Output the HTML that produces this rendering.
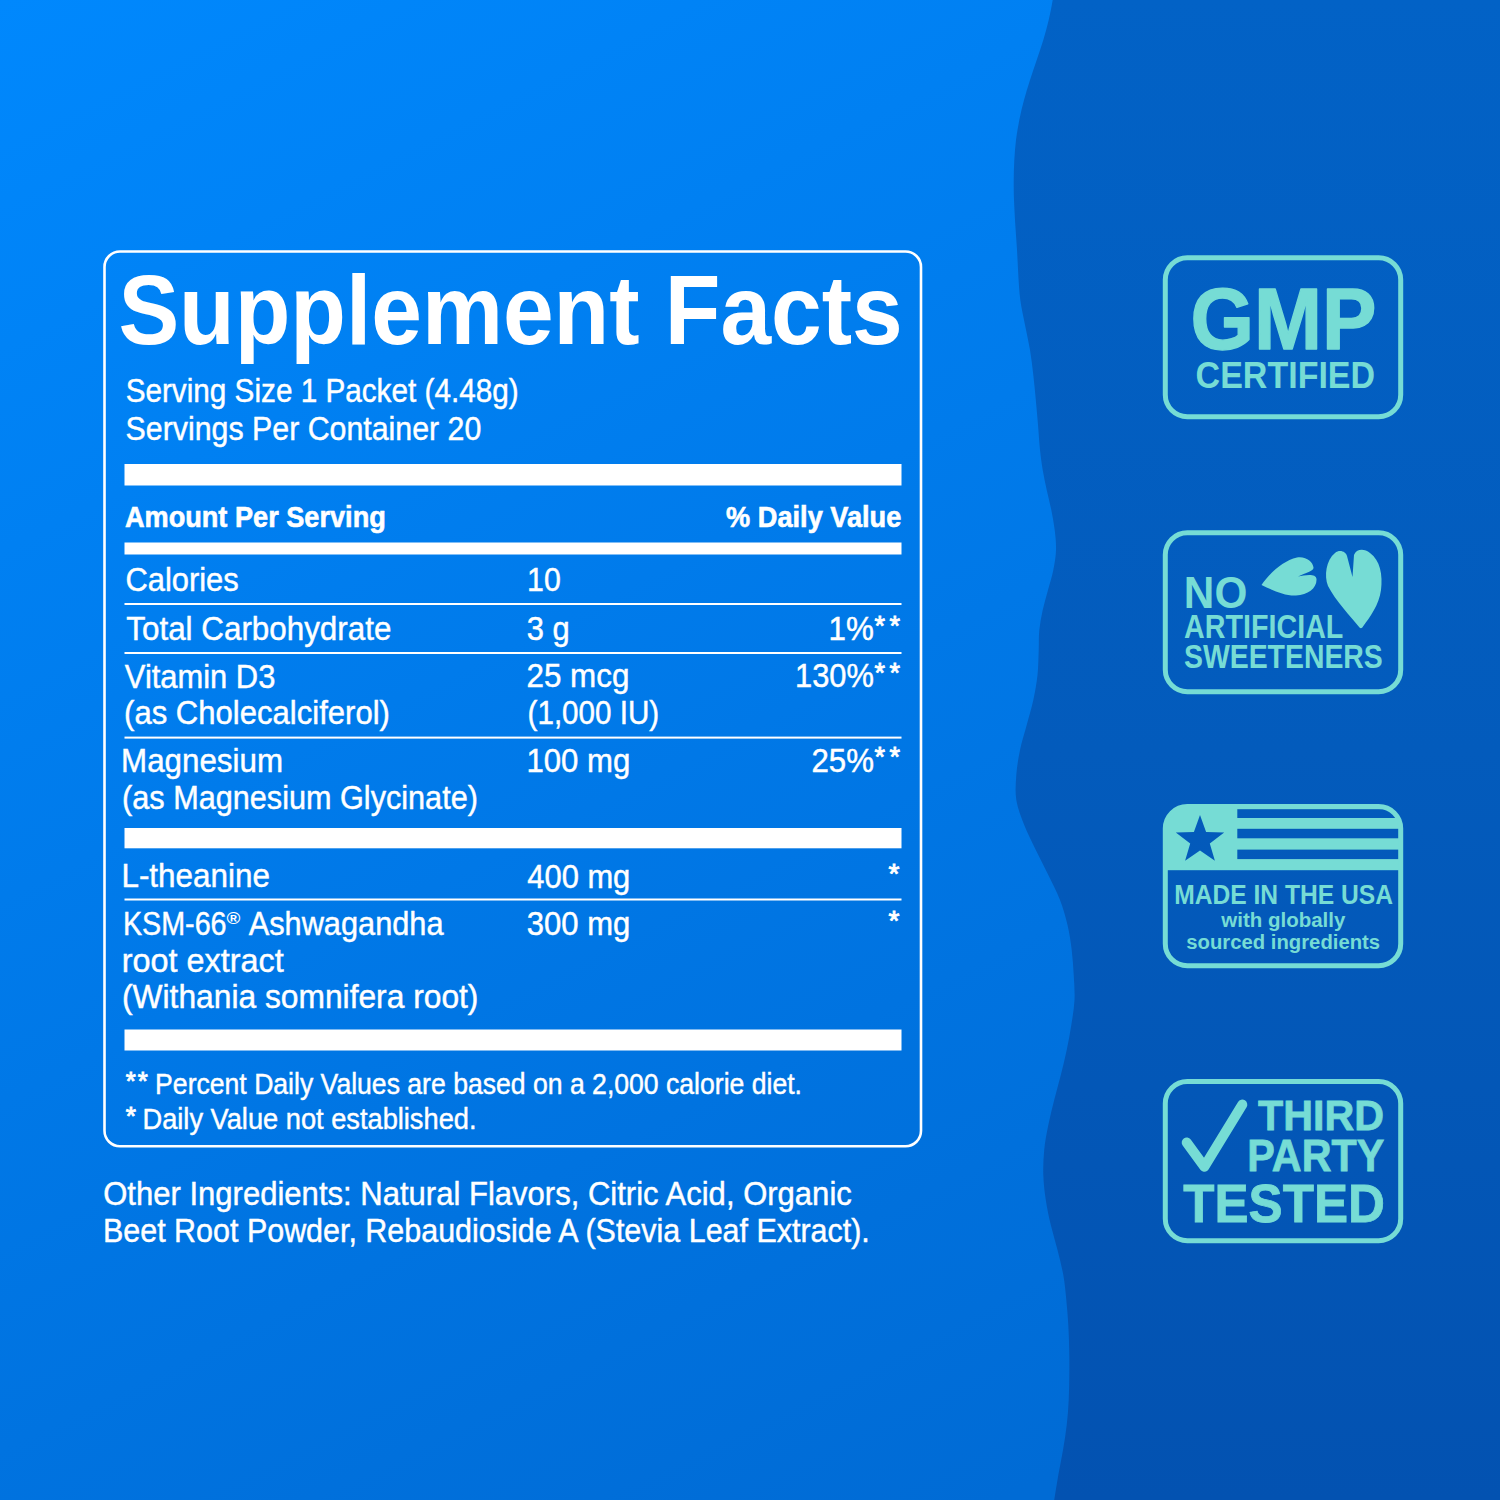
<!DOCTYPE html>
<html lang="en">
<head>
<meta charset="utf-8">
<title>Supplement Facts</title>
<style>
html,body{margin:0;padding:0;background:#0079e9;}
body{width:1500px;height:1500px;overflow:hidden;}
svg{display:block;font-family:"Liberation Sans",Arial,sans-serif;}
</style>
</head>
<body>
<svg width="1500" height="1500" viewBox="0 0 1500 1500">
<defs>
<linearGradient id="gl" gradientUnits="userSpaceOnUse" x1="0" y1="0" x2="800" y2="1600">
<stop offset="0" stop-color="#0088fd"/>
<stop offset="1" stop-color="#006bd5"/>
</linearGradient>
<linearGradient id="gr" gradientUnits="userSpaceOnUse" x1="0" y1="0" x2="0" y2="1500">
<stop offset="0" stop-color="#0262c6"/>
<stop offset="0.5" stop-color="#035bbc"/>
<stop offset="1" stop-color="#0352b1"/>
</linearGradient>
<clipPath id="b3clip"><rect x="1165.3" y="806.5" width="235.4" height="159.3" rx="22"/></clipPath>
</defs>
<rect x="0" y="0" width="1500" height="1500" fill="url(#gl)"/>
<path d="M1500,0 L1052.7,0.0 C1051.4,7.5 1050.3,13.3 1048.7,20.0 C1047.1,26.7 1045.3,33.3 1043.3,40.0 C1041.3,46.7 1038.9,53.3 1036.7,60.0 C1034.5,66.7 1032.1,73.3 1030.0,80.0 C1027.9,86.7 1025.8,93.3 1024.0,100.0 C1022.2,106.7 1020.6,113.3 1019.3,120.0 C1018.0,126.7 1016.8,133.3 1016.0,140.0 C1015.2,146.7 1014.7,153.3 1014.3,160.0 C1013.9,166.7 1013.8,173.3 1013.7,180.0 C1013.7,186.7 1013.7,192.5 1014.0,200.0 C1014.3,207.5 1014.8,216.7 1015.3,225.0 C1015.8,233.3 1016.5,241.7 1017.0,250.0 C1017.5,258.3 1017.8,266.7 1018.3,275.0 C1018.8,283.3 1019.2,291.7 1020.3,300.0 C1021.4,308.3 1023.4,316.7 1025.0,325.0 C1026.6,333.3 1028.6,341.7 1030.0,350.0 C1031.4,358.3 1032.3,366.7 1033.3,375.0 C1034.3,383.3 1035.0,391.7 1035.8,400.0 C1036.6,408.3 1037.3,416.7 1038.0,425.0 C1038.7,433.3 1039.2,442.5 1040.0,450.0 C1040.8,457.5 1041.6,463.3 1042.7,470.0 C1043.8,476.7 1045.3,483.3 1046.7,490.0 C1048.1,496.7 1050.0,503.3 1051.3,510.0 C1052.6,516.7 1053.9,523.3 1054.7,530.0 C1055.5,536.7 1056.2,543.3 1056.0,550.0 C1055.8,556.7 1054.6,563.3 1053.3,570.0 C1052.0,576.7 1049.8,583.3 1048.0,590.0 C1046.2,596.7 1044.2,603.3 1042.7,610.0 C1041.2,616.7 1040.0,623.3 1039.3,630.0 C1038.6,636.7 1039.0,642.5 1038.7,650.0 C1038.4,657.5 1038.4,666.7 1037.5,675.0 C1036.6,683.3 1035.1,691.7 1033.3,700.0 C1031.5,708.3 1028.9,716.7 1026.7,725.0 C1024.5,733.3 1021.7,741.7 1020.0,750.0 C1018.3,758.3 1016.9,766.7 1016.3,775.0 C1015.7,783.3 1015.0,791.7 1016.3,800.0 C1017.6,808.3 1021.0,816.7 1024.2,825.0 C1027.5,833.3 1031.8,841.7 1035.8,850.0 C1039.8,858.3 1044.3,866.7 1048.3,875.0 C1052.3,883.3 1056.8,891.7 1060.0,900.0 C1063.2,908.3 1065.5,916.7 1067.5,925.0 C1069.5,933.3 1070.7,941.7 1071.7,950.0 C1072.7,958.3 1073.2,966.7 1073.7,975.0 C1074.2,983.3 1074.9,991.7 1074.5,1000.0 C1074.1,1008.3 1072.6,1016.7 1071.3,1025.0 C1070.0,1033.3 1068.5,1041.7 1066.7,1050.0 C1065.0,1058.3 1062.9,1066.7 1060.8,1075.0 C1058.7,1083.3 1056.3,1091.7 1054.2,1100.0 C1052.1,1108.3 1050.0,1116.7 1048.3,1125.0 C1046.6,1133.3 1045.0,1141.7 1044.2,1150.0 C1043.4,1158.3 1043.0,1166.7 1043.3,1175.0 C1043.6,1183.3 1044.5,1191.7 1045.8,1200.0 C1047.0,1208.3 1048.8,1216.7 1050.8,1225.0 C1052.8,1233.3 1055.4,1241.7 1057.5,1250.0 C1059.6,1258.3 1061.8,1266.7 1063.3,1275.0 C1064.8,1283.3 1065.5,1291.7 1066.3,1300.0 C1067.1,1308.3 1067.8,1316.7 1068.3,1325.0 C1068.8,1333.3 1069.0,1341.7 1069.2,1350.0 C1069.4,1358.3 1069.4,1366.7 1069.3,1375.0 C1069.2,1383.3 1069.1,1391.7 1068.7,1400.0 C1068.3,1408.3 1067.7,1416.7 1066.7,1425.0 C1065.8,1433.3 1064.4,1441.7 1063.0,1450.0 C1061.6,1458.3 1059.8,1466.7 1058.3,1475.0 C1056.8,1483.3 1055.6,1491.7 1054.2,1500.0 L1500,1500 Z" fill="url(#gr)"/>

<!-- facts panel -->
<rect x="104.5" y="251.5" width="816.5" height="894.8" rx="15.5" fill="none" stroke="#fff" stroke-width="2.6"/>
<g fill="#fff">
<rect x="124.5" y="464" width="777" height="21.5"/>
<rect x="124.5" y="542.5" width="777" height="12"/>
<rect x="124.5" y="603" width="777" height="2"/>
<rect x="124.5" y="652" width="777" height="2"/>
<rect x="124.5" y="736.6" width="777" height="2"/>
<rect x="124.5" y="828" width="777" height="20.3"/>
<rect x="124.5" y="898.5" width="777" height="2"/>
<rect x="124.5" y="1029.5" width="777" height="21"/>
</g>

<!-- flag -->
<g clip-path="url(#b3clip)">
<rect x="1160" y="800" width="250" height="70.2" fill="#76dcd5"/>
<g fill="url(#gr)">
<rect x="1237.3" y="809.2" width="170" height="8.8"/>
<rect x="1237.3" y="828.8" width="170" height="9.5"/>
<rect x="1237.3" y="849.6" width="170" height="9.5"/>
</g>
</g>
<polygon fill="url(#gr)" points="1200.0,814.9 1206.1,832.0 1224.2,832.5 1209.8,843.5 1214.9,860.8 1200.0,850.6 1185.1,860.8 1190.2,843.5 1175.8,832.5 1193.9,832.0"/>
<!-- badges -->
<g fill="none" stroke="#76dcd5" stroke-width="5">
<rect x="1165.3" y="257.8" width="235.4" height="158.9" rx="22"/>
<rect x="1165.3" y="532.8" width="235.4" height="158.9" rx="22"/>
<rect x="1165.3" y="806.5" width="235.4" height="159.3" rx="22"/>
<rect x="1165.3" y="1081.5" width="235.4" height="159.3" rx="22"/>
</g>
<!-- leaves -->
<g fill="#76dcd5">
<path d="M1261.5,585 C1268,575 1282,561 1297,557.5 C1306,556 1313,562 1313.5,567.5 C1314,571 1306,573 1298,576.5 C1305,575 1316,573 1316.5,579 C1317,588 1308,595 1296,595.5 C1284,596 1272,590 1261.5,585 Z"/>
<path d="M1359.5,627.5 C1351,617 1335,600 1328,586 C1324,576 1326,560 1335,553 C1340,549 1346,552 1347,556 L1352.5,577 L1354,555 C1356,549 1364,548 1370,553 C1380,560 1383,575 1381,590 C1379,605 1370,617 1363,626.5 C1362,628.5 1360.5,628.5 1359.5,627.5 Z"/>
</g>
<!-- check -->
<polyline points="1186.7,1142.5 1204.4,1166.7 1242.3,1104.6" fill="none" stroke="#76dcd5" stroke-width="10" stroke-linecap="round" stroke-linejoin="round"/>

<text x="118.38" y="344.00" font-size="97.39" font-weight="bold" fill="#ffffff" textLength="784.36" lengthAdjust="spacingAndGlyphs">Supplement Facts</text>
<text x="125.65" y="401.50" font-size="32.80" stroke="#ffffff" stroke-width="0.45" fill="#ffffff" textLength="392.99" lengthAdjust="spacingAndGlyphs">Serving Size 1 Packet (4.48g)</text>
<text x="125.62" y="440.40" font-size="32.80" stroke="#ffffff" stroke-width="0.45" fill="#ffffff" textLength="355.76" lengthAdjust="spacingAndGlyphs">Servings Per Container 20</text>
<text x="124.92" y="527.00" font-size="29.07" font-weight="bold" stroke="#fff" stroke-width="0.6" fill="#ffffff" textLength="260.89" lengthAdjust="spacingAndGlyphs">Amount Per Serving</text>
<text x="726.12" y="526.60" font-size="29.07" font-weight="bold" stroke="#fff" stroke-width="0.6" fill="#ffffff" textLength="175.21" lengthAdjust="spacingAndGlyphs">% Daily Value</text>
<text x="125.43" y="591.00" font-size="32.60" stroke="#ffffff" stroke-width="0.45" fill="#ffffff" textLength="113.29" lengthAdjust="spacingAndGlyphs">Calories</text>
<text x="527.09" y="591.00" font-size="32.60" stroke="#ffffff" stroke-width="0.45" fill="#ffffff" textLength="33.69" lengthAdjust="spacingAndGlyphs">10</text>
<text x="126.29" y="640.40" font-size="32.60" stroke="#ffffff" stroke-width="0.45" fill="#ffffff" textLength="265.10" lengthAdjust="spacingAndGlyphs">Total Carbohydrate</text>
<text x="526.82" y="640.40" font-size="32.60" stroke="#ffffff" stroke-width="0.45" fill="#ffffff" textLength="42.97" lengthAdjust="spacingAndGlyphs">3 g</text>
<text x="828.61" y="640.40" font-size="32.60" stroke="#ffffff" stroke-width="0.45" fill="#ffffff" textLength="45.31" lengthAdjust="spacingAndGlyphs">1%</text>
<text x="889.41" y="635.18" font-size="27.00" stroke="#ffffff" stroke-width="0.90" fill="#ffffff" textLength="10.51" lengthAdjust="spacingAndGlyphs">*</text>
<text x="874.47" y="635.18" font-size="27.00" stroke="#ffffff" stroke-width="0.90" fill="#ffffff" textLength="10.51" lengthAdjust="spacingAndGlyphs">*</text>
<text x="124.86" y="687.70" font-size="32.60" stroke="#ffffff" stroke-width="0.45" fill="#ffffff" textLength="150.49" lengthAdjust="spacingAndGlyphs">Vitamin D3</text>
<text x="526.42" y="687.30" font-size="32.60" stroke="#ffffff" stroke-width="0.45" fill="#ffffff" textLength="103.01" lengthAdjust="spacingAndGlyphs">25 mcg</text>
<text x="795.05" y="687.30" font-size="32.60" stroke="#ffffff" stroke-width="0.45" fill="#ffffff" textLength="78.85" lengthAdjust="spacingAndGlyphs">130%</text>
<text x="889.41" y="682.08" font-size="27.00" stroke="#ffffff" stroke-width="0.90" fill="#ffffff" textLength="10.51" lengthAdjust="spacingAndGlyphs">*</text>
<text x="874.47" y="682.08" font-size="27.00" stroke="#ffffff" stroke-width="0.90" fill="#ffffff" textLength="10.51" lengthAdjust="spacingAndGlyphs">*</text>
<text x="124.07" y="724.40" font-size="32.60" stroke="#ffffff" stroke-width="0.45" fill="#ffffff" textLength="265.86" lengthAdjust="spacingAndGlyphs">(as Cholecalciferol)</text>
<text x="527.56" y="723.50" font-size="32.60" stroke="#ffffff" stroke-width="0.45" fill="#ffffff" textLength="131.68" lengthAdjust="spacingAndGlyphs">(1,000 IU)</text>
<text x="121.03" y="771.80" font-size="32.60" stroke="#ffffff" stroke-width="0.45" fill="#ffffff" textLength="162.04" lengthAdjust="spacingAndGlyphs">Magnesium</text>
<text x="526.43" y="771.60" font-size="32.60" stroke="#ffffff" stroke-width="0.45" fill="#ffffff" textLength="103.88" lengthAdjust="spacingAndGlyphs">100 mg</text>
<text x="811.43" y="771.60" font-size="32.60" stroke="#ffffff" stroke-width="0.45" fill="#ffffff" textLength="62.48" lengthAdjust="spacingAndGlyphs">25%</text>
<text x="889.41" y="766.38" font-size="27.00" stroke="#ffffff" stroke-width="0.90" fill="#ffffff" textLength="10.51" lengthAdjust="spacingAndGlyphs">*</text>
<text x="874.47" y="766.38" font-size="27.00" stroke="#ffffff" stroke-width="0.90" fill="#ffffff" textLength="10.51" lengthAdjust="spacingAndGlyphs">*</text>
<text x="122.10" y="808.80" font-size="32.60" stroke="#ffffff" stroke-width="0.45" fill="#ffffff" textLength="355.80" lengthAdjust="spacingAndGlyphs">(as Magnesium Glycinate)</text>
<text x="121.42" y="887.40" font-size="32.60" stroke="#ffffff" stroke-width="0.45" fill="#ffffff" textLength="148.48" lengthAdjust="spacingAndGlyphs">L-theanine</text>
<text x="527.29" y="887.60" font-size="32.60" stroke="#ffffff" stroke-width="0.45" fill="#ffffff" textLength="103.00" lengthAdjust="spacingAndGlyphs">400 mg</text>
<text x="888.55" y="883.32" font-size="27.50" stroke="#ffffff" stroke-width="0.90" fill="#ffffff" textLength="10.89" lengthAdjust="spacingAndGlyphs">*</text>
<text x="122.95" y="934.70" font-size="32.60" stroke="#ffffff" stroke-width="0.45" fill="#ffffff" textLength="103.62" lengthAdjust="spacingAndGlyphs">KSM-66</text>
<text x="226.41" y="923.80" font-size="15.60" font-weight="bold" fill="#ffffff" textLength="13.88" lengthAdjust="spacingAndGlyphs">®</text>
<text x="248.74" y="934.70" font-size="32.60" stroke="#ffffff" stroke-width="0.45" fill="#ffffff" textLength="194.76" lengthAdjust="spacingAndGlyphs">Ashwagandha</text>
<text x="526.82" y="934.60" font-size="32.60" stroke="#ffffff" stroke-width="0.45" fill="#ffffff" textLength="103.48" lengthAdjust="spacingAndGlyphs">300 mg</text>
<text x="888.55" y="930.32" font-size="27.50" stroke="#ffffff" stroke-width="0.90" fill="#ffffff" textLength="10.89" lengthAdjust="spacingAndGlyphs">*</text>
<text x="121.85" y="971.60" font-size="32.60" stroke="#ffffff" stroke-width="0.45" fill="#ffffff" textLength="161.89" lengthAdjust="spacingAndGlyphs">root extract</text>
<text x="122.03" y="1008.20" font-size="32.60" stroke="#ffffff" stroke-width="0.45" fill="#ffffff" textLength="356.44" lengthAdjust="spacingAndGlyphs">(Withania somnifera root)</text>
<text x="125.89" y="1089.91" font-size="25.60" stroke="#ffffff" stroke-width="0.90" fill="#ffffff" textLength="10.02" lengthAdjust="spacingAndGlyphs">*</text>
<text x="137.69" y="1089.91" font-size="25.60" stroke="#ffffff" stroke-width="0.90" fill="#ffffff" textLength="10.02" lengthAdjust="spacingAndGlyphs">*</text>
<text x="155.12" y="1094.00" font-size="28.70" stroke="#ffffff" stroke-width="0.45" fill="#ffffff" textLength="646.91" lengthAdjust="spacingAndGlyphs">Percent Daily Values are based on a 2,000 calorie diet.</text>
<text x="125.88" y="1125.31" font-size="25.60" stroke="#ffffff" stroke-width="0.90" fill="#ffffff" textLength="10.23" lengthAdjust="spacingAndGlyphs">*</text>
<text x="142.47" y="1129.00" font-size="28.70" stroke="#ffffff" stroke-width="0.45" fill="#ffffff" textLength="334.02" lengthAdjust="spacingAndGlyphs">Daily Value not established.</text>
<text x="103.23" y="1204.60" font-size="32.70" stroke="#ffffff" stroke-width="0.45" fill="#ffffff" textLength="748.59" lengthAdjust="spacingAndGlyphs">Other Ingredients: Natural Flavors, Citric Acid, Organic</text>
<text x="103.00" y="1241.90" font-size="32.70" stroke="#ffffff" stroke-width="0.45" fill="#ffffff" textLength="766.78" lengthAdjust="spacingAndGlyphs">Beet Root Powder, Rebaudioside A (Stevia Leaf Extract).</text>
<text x="1190.45" y="348.60" font-size="87.79" font-weight="bold" stroke="#76dcd5" stroke-width="1.4" stroke-linejoin="round" fill="#76dcd5" textLength="186.04" lengthAdjust="spacingAndGlyphs">GMP</text>
<text x="1195.60" y="387.50" font-size="36.63" font-weight="bold" fill="#76dcd5" textLength="179.52" lengthAdjust="spacingAndGlyphs">CERTIFIED</text>
<text x="1183.87" y="607.80" font-size="44.04" font-weight="bold" fill="#76dcd5" textLength="63.40" lengthAdjust="spacingAndGlyphs">NO</text>
<text x="1184.09" y="638.20" font-size="32.56" font-weight="bold" fill="#76dcd5" textLength="159.30" lengthAdjust="spacingAndGlyphs">ARTIFICIAL</text>
<text x="1183.98" y="668.40" font-size="32.99" font-weight="bold" fill="#76dcd5" textLength="198.83" lengthAdjust="spacingAndGlyphs">SWEETENERS</text>
<text x="1174.15" y="904.20" font-size="28.20" font-weight="bold" fill="#76dcd5" textLength="218.90" lengthAdjust="spacingAndGlyphs">MADE IN THE USA</text>
<text x="1221.26" y="927.20" font-size="19.50" font-weight="bold" fill="#76dcd5" textLength="124.15" lengthAdjust="spacingAndGlyphs">with globally</text>
<text x="1186.29" y="948.70" font-size="19.50" font-weight="bold" fill="#76dcd5" textLength="193.84" lengthAdjust="spacingAndGlyphs">sourced ingredients</text>
<text x="1258.04" y="1130.30" font-size="42.01" font-weight="bold" stroke="#76dcd5" stroke-width="0.8" fill="#76dcd5" textLength="126.00" lengthAdjust="spacingAndGlyphs">THIRD</text>
<text x="1247.34" y="1171.40" font-size="43.46" font-weight="bold" stroke="#76dcd5" stroke-width="0.8" fill="#76dcd5" textLength="136.93" lengthAdjust="spacingAndGlyphs">PARTY</text>
<text x="1183.33" y="1221.80" font-size="52.91" font-weight="bold" stroke="#76dcd5" stroke-width="0.8" fill="#76dcd5" textLength="201.52" lengthAdjust="spacingAndGlyphs">TESTED</text>
</svg>
</body>
</html>
